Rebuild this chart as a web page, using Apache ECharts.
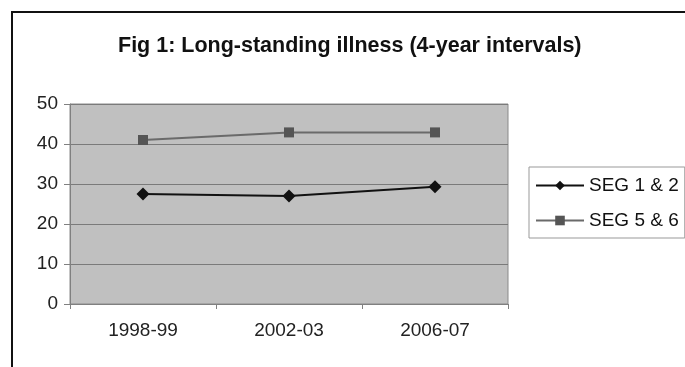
<!DOCTYPE html>
<html>
<head>
<meta charset="utf-8">
<script src="https://cdn.jsdelivr.net/npm/echarts@6/dist/echarts.min.js"></script>
<style>
html,body{margin:0;padding:0;background:#fff;}
#c{width:685px;height:367px;}
</style>
</head>
<body>
<div id="c"></div>
<script>
const categories = ['1998-99', '2002-03', '2006-07'];
const seg12 = [27.5, 27.0, 29.3];
const seg56 = [41.0, 42.9, 42.9];
const yTicks = { min: 0, max: 50, interval: 10 };
const titleText = 'Fig 1: Long-standing illness (4-year intervals)';
const seriesNames = ['SEG 1 & 2', 'SEG 5 & 6'];

const chart = echarts.init(document.getElementById('c'), null, { renderer: 'canvas' });
const font = 'Liberation Sans, Arial, sans-serif';
chart.setOption({
  animation: false,
  backgroundColor: '#fff',
  graphic: [{
    type: 'rect',
    shape: { x: 12, y: 12, width: 700, height: 400 },
    style: { fill: 'none', stroke: '#111', lineWidth: 2 },
    z: -1
  }],
  title: {
    text: titleText,
    left: 118,
    top: 35,
    padding: 0,
    textStyle: { fontFamily: font, fontSize: 21.5, fontWeight: 'bold', color: '#111' }
  },
  legend: {
    orient: 'vertical',
    left: 529,
    top: 167,
    width: 156,
    padding: [8, 6, 7, 6],
    itemWidth: 48,
    itemHeight: 12,
    itemGap: 14,
    backgroundColor: '#fff',
    borderColor: '#999',
    borderWidth: 1,
    borderRadius: 0,
    textStyle: { fontFamily: font, fontSize: 19, color: '#111', lineHeight: 21 },
    data: seriesNames
  },
  grid: {
    left: 70, top: 104, right: 177, bottom: 63,
    show: true, backgroundColor: '#c0c0c0', borderColor: '#8a8a8a', borderWidth: 1
  },
  xAxis: {
    type: 'category',
    data: categories,
    boundaryGap: true,
    axisLine: { lineStyle: { color: '#808080', width: 1 } },
    axisTick: { show: true, length: 5, inside: false, lineStyle: { color: '#808080' } },
    axisLabel: { fontFamily: font, fontSize: 19, color: '#222', margin: 17 }
  },
  yAxis: {
    type: 'value',
    min: yTicks.min, max: yTicks.max, interval: yTicks.interval,
    axisLine: { show: true, lineStyle: { color: '#808080', width: 1 } },
    axisTick: { show: true, length: 6, lineStyle: { color: '#808080' } },
    splitLine: { show: true, lineStyle: { color: '#7a7a7a', width: 1 } },
    axisLabel: { fontFamily: font, fontSize: 19, color: '#222', margin: 12 }
  },
  series: [{
    name: seriesNames[0],
    type: 'line',
    data: seg12,
    symbol: 'diamond',
    symbolSize: 13,
    lineStyle: { color: '#111', width: 2 },
    itemStyle: { color: '#111' }
  }, {
    name: seriesNames[1],
    type: 'line',
    data: seg56,
    symbol: 'rect',
    symbolSize: 10,
    lineStyle: { color: '#6a6a6a', width: 2 },
    itemStyle: { color: '#555' }
  }]
});
</script>
</body>
</html>
